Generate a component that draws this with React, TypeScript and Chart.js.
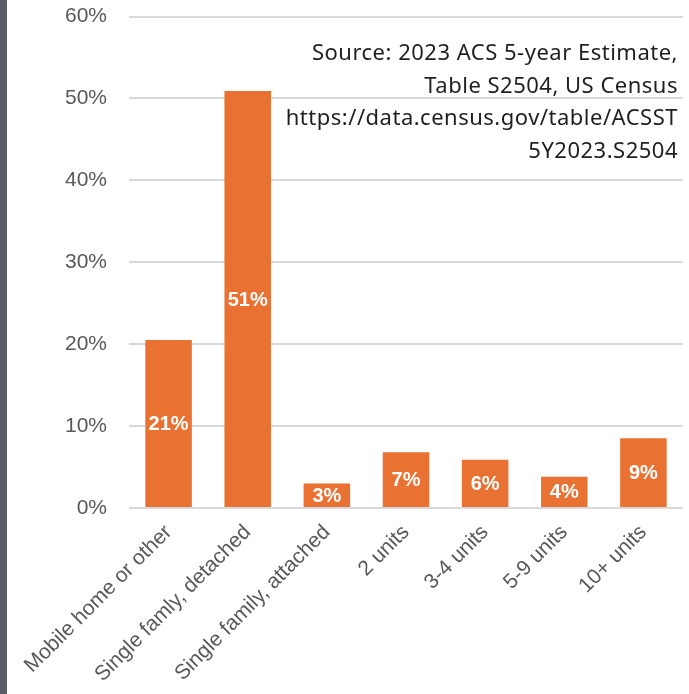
import React, { useEffect, useRef } from "react";
import { Chart, registerables } from "chart.js";

Chart.register(...registerables);

const categories = [
  "Mobile home or other",
  "Single famly, detached",
  "Single family, attached",
  "2 units",
  "3-4 units",
  "5-9 units",
  "10+ units",
];
const shares = [20.5, 50.9, 3.0, 6.8, 5.9, 3.8, 8.5];
const yMin = 0;
const yMax = 60;
const yStep = 10;
const sourceLines = [
  "Source: 2023 ACS 5-year Estimate,",
  "Table S2504, US Census",
  "https://data.census.gov/table/ACSST",
  "5Y2023.S2504",
];

const BAR_COLOR = "#E97132";
const GRID_COLOR = "#D9D9D9";
const TICK_COLOR = "#595959";

const barLabelPlugin = {
  id: "barLabels",
  afterDatasetsDraw(chart: any) {
    const ctx = chart.ctx;
    const meta = chart.getDatasetMeta(0);
    ctx.save();
    ctx.fillStyle = "#FFFFFF";
    ctx.font = "bold 20px 'Liberation Sans', Arial, sans-serif";
    ctx.textAlign = "center";
    ctx.textBaseline = "middle";
    meta.data.forEach((el: any, i: number) => {
      const v = chart.data.datasets[0].data[i] as number;
      const y = (el.y + el.base) / 2;
      ctx.fillText(Math.round(v) + "%", el.x, y + 1);
    });
    ctx.restore();
  },
};

const sourcePlugin = {
  id: "sourceText",
  afterDraw(chart: any) {
    const ctx = chart.ctx;
    const area = chart.chartArea;
    ctx.save();
    ctx.fillStyle = "#1F1F1F";
    ctx.font = "22px 'Noto Sans', sans-serif";
    try {
      (ctx as any).letterSpacing = "0.5px";
    } catch (e) {}
    ctx.textAlign = "right";
    ctx.textBaseline = "alphabetic";
    const x = area.right - 5;
    sourceLines.forEach((line, i) => {
      ctx.fillText(line, x, area.top + 43.5 + i * 32.6);
    });
    ctx.restore();
  },
};

export default function App() {
  const canvasRef = useRef<HTMLCanvasElement | null>(null);

  useEffect(() => {
    document.body.style.margin = "0";
    const canvas = canvasRef.current;
    if (!canvas) return;
    const chart = new Chart(canvas, {
      type: "bar",
      data: {
        labels: categories,
        datasets: [
          {
            data: shares,
            backgroundColor: BAR_COLOR,
            borderWidth: 0,
            barPercentage: 0.588,
            categoryPercentage: 1,
          },
        ],
      },
      options: {
        animation: false,
        responsive: false,
        devicePixelRatio: 1,
        layout: { padding: { top: 0, right: 6, left: 0, bottom: 0 } },
        plugins: {
          legend: { display: false },
          tooltip: { enabled: false },
          title: { display: false },
        },
        scales: {
          x: {
            grid: { display: false, drawTicks: false },
            border: { display: false },
            ticks: {
              color: TICK_COLOR,
              font: { family: "'Liberation Sans', Arial, sans-serif", size: 21 },
              minRotation: 45,
              maxRotation: 45,
              autoSkip: false,
              padding: 12,
            },
            afterFit(scale: any) {
              scale.height = 186;
            },
          },
          y: {
            min: yMin,
            max: yMax,
            grid: { color: GRID_COLOR, lineWidth: 2, drawTicks: false },
            border: { display: false },
            ticks: {
              stepSize: yStep,
              color: TICK_COLOR,
              font: { family: "'Liberation Sans', Arial, sans-serif", size: 21 },
              padding: 22,
              callback: (v: any) => v + "%",
            },
            afterFit(scale: any) {
              scale.width = 129;
              scale.paddingTop = 16.5;
              scale.paddingBottom = 0;
            },
          },
        },
      },
      plugins: [barLabelPlugin, sourcePlugin],
    });
    return () => chart.destroy();
  }, []);

  return (
    <div style={{ position: "relative", width: 689, height: 694, background: "#FFFFFF", overflow: "hidden" }}>
      <canvas ref={canvasRef} width={689} height={694} style={{ display: "block" }} />
      <div
        style={{
          position: "absolute",
          left: 0,
          top: 0,
          width: 7,
          height: 694,
          background: "#575C67",
        }}
      />
    </div>
  );
}
